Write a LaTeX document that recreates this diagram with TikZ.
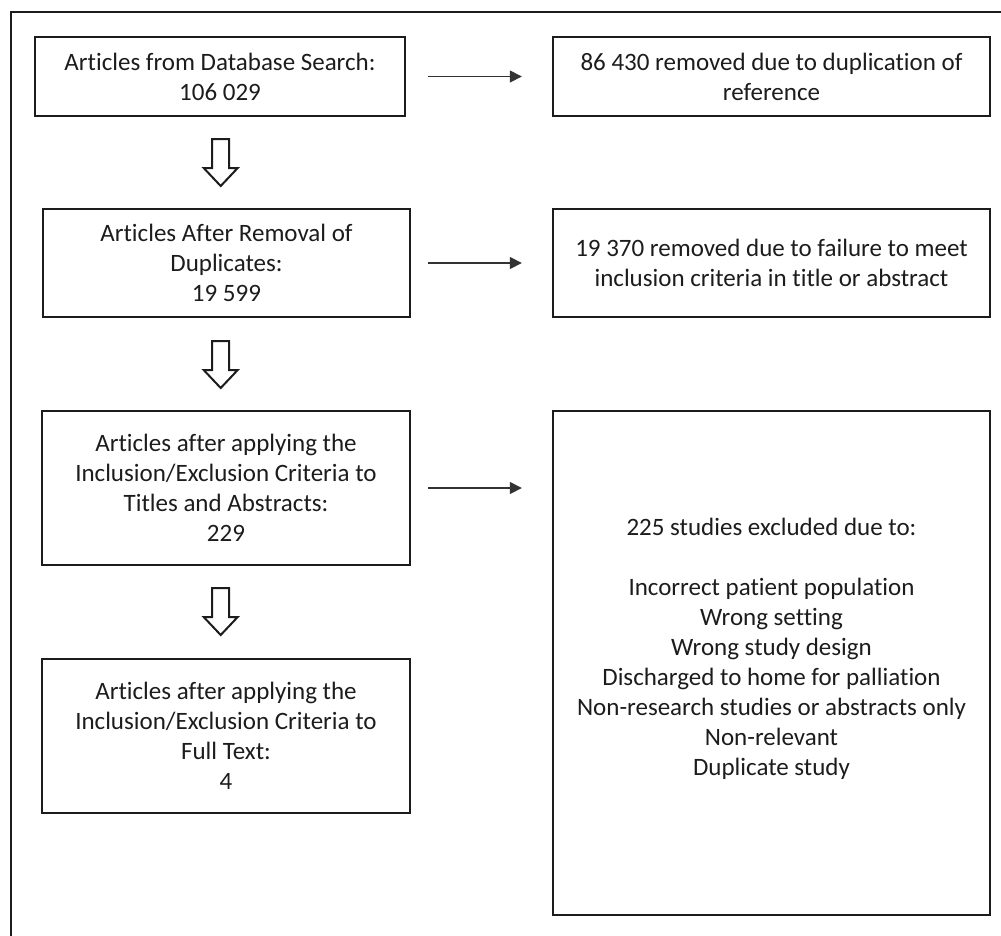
\documentclass[tikz,border=0pt]{standalone}
\usepackage{fontspec}
\setmainfont{Carlito}[RawFeature={-liga;-dlig;-clig}]
\usetikzlibrary{arrows.meta,calc}
\definecolor{ink}{HTML}{1C1C1C}
\tikzset{
  box/.style={draw=ink, line width=2.4pt, inner sep=0pt, align=center, text=ink,
    font=\fontsize{25}{30}\selectfont},
  txt/.style={inner sep=0pt, align=center, text=ink, font=\fontsize{25}{30}\selectfont},
  thin arrow/.style={draw=ink!90, line width=1.6pt, -{Triangle[length=12pt,width=12pt]}},
  hollow/.style={draw=ink, line width=2pt, fill=white, line join=miter}
}
\begin{document}
\begin{tikzpicture}[x=1pt,y=-1pt]
\useasboundingbox (0,0) rectangle (1001,935);
\draw[ink, line width=2.4pt] (11,940) -- (11,12) -- (1010,12);

\node[box, minimum width=370pt, minimum height=79pt] (A) at (220,76.5)
  {Articles from Database Search:\\106 029};
\node[box, minimum width=437pt, minimum height=79pt] (B) at (771.5,76.5)
  {86 430 removed due to duplication of\\reference};
\node[box, minimum width=367pt, minimum height=108pt] (C) at (226.5,263)
  {Articles After Removal of\\Duplicates:\\19 599};
\node[box, minimum width=437pt, minimum height=108pt] (D) at (771.5,263)
  {19 370 removed due to failure to meet\\inclusion criteria in title or abstract};
\node[box, minimum width=368pt, minimum height=154pt] (E) at (226,488)
  {Articles after applying the\\Inclusion/Exclusion Criteria to\\Titles and Abstracts:\\229};
\node[box, minimum width=437pt, minimum height=504pt] (F) at (771.5,663) {};
\node[txt] (Ft) at (771.5,649)
  {225 studies excluded due to:\\[30pt]Incorrect patient population\\Wrong setting\\Wrong study design\\Discharged to home for palliation\\Non-research studies or abstracts only\\Non-relevant\\Duplicate study};
\node[box, minimum width=368pt, minimum height=154pt] (G) at (226,736)
  {Articles after applying the\\Inclusion/Exclusion Criteria to\\Full Text:\\4};

\draw[thin arrow, shorten <=22pt, shorten >=30pt] (A.east) -- (A.east -| B.west);
\draw[thin arrow, shorten <=17pt, shorten >=30pt] (C.east) -- (C.east -| D.west);
\draw[thin arrow, shorten <=17pt, shorten >=30pt] (E.east) -- (E.east -| F.west);

\coordinate (h1) at (220.7,139);
\coordinate (h2) at (220.7,341);
\coordinate (h3) at (220.7,588);
\foreach \h in {h1,h2,h3}{
  \draw[hollow] (\h) ++(-8.5,0) -- ++(17,0) -- ++(0,29) -- ++(8.5,0) -- ++(-17,18)
    -- ++(-17,-18) -- ++(8.5,0) -- cycle;
}
\end{tikzpicture}
\end{document}
